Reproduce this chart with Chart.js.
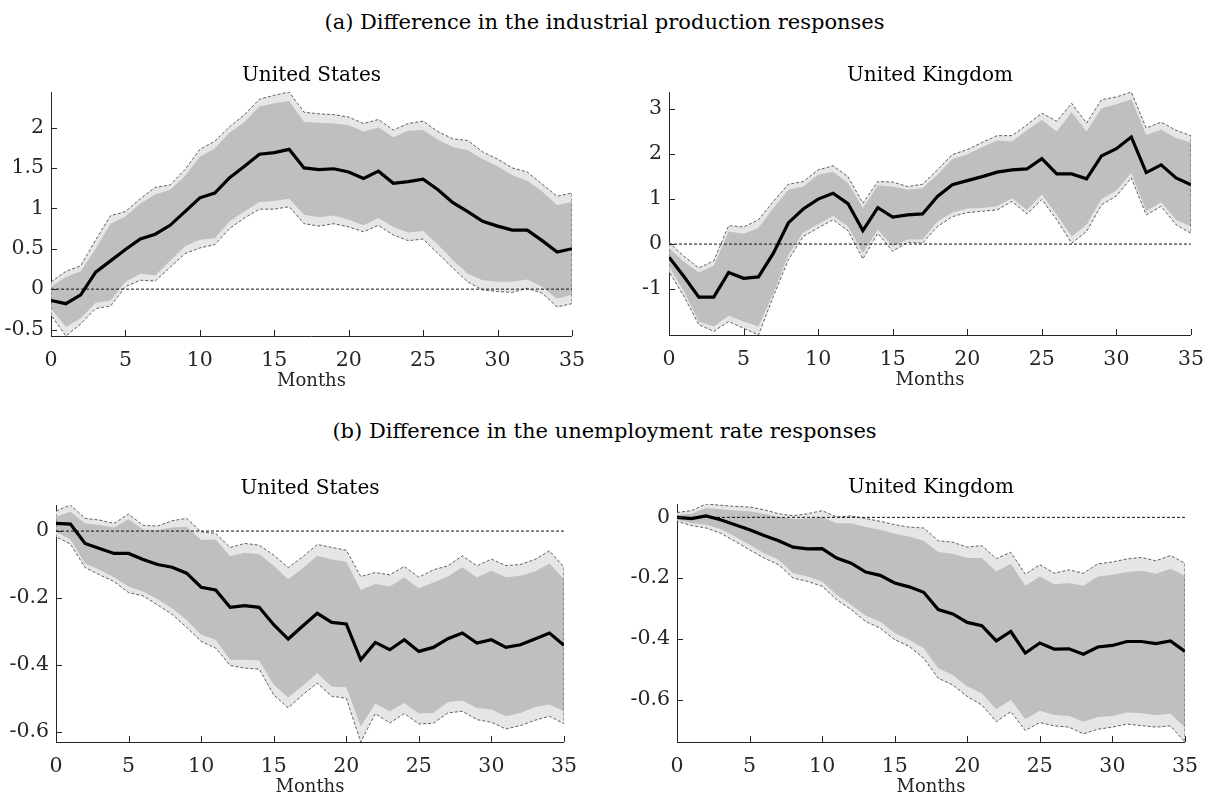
<!DOCTYPE html>
<html>
<head>
<meta charset="utf-8">
<script src="https://cdn.jsdelivr.net/npm/chart.js@4.4.0/dist/chart.umd.min.js"></script>
<style>
  html, body { margin: 0; padding: 0; background: #fff; }
  body { width: 1209px; height: 798px; position: relative; overflow: hidden; }
  .heading { position: absolute; left: 0; width: 1209px; text-align: center;
             font-family: "DejaVu Serif", serif; font-size: 21px; line-height: 26px; color: #000; }
  .ptitle { position: absolute; text-align: center; font-family: "DejaVu Serif", serif;
            font-size: 20px; line-height: 24px; color: #000; white-space: nowrap; }
  canvas { position: absolute; }
</style>
</head>
<body>
<div class="heading" style="top:9px">(a) Difference in the industrial production responses</div>
<div class="heading" style="top:418px">(b) Difference in the unemployment rate responses</div>
<canvas id="ipUS"></canvas>
<canvas id="ipUK"></canvas>
<canvas id="urUS"></canvas>
<canvas id="urUK"></canvas>
<script>
// Horizon (months after the shock)
const months = [0,1,2,3,4,5,6,7,8,9,10,11,12,13,14,15,16,17,18,19,20,21,22,23,24,25,26,27,28,29,30,31,32,33,34,35];
const monthTicks = [0,5,10,15,20,25,30,35];

// Industrial production, United States
const ipUSMedian  = [-0.14,-0.18,-0.07,0.21,0.35,0.49,0.62,0.68,0.79,0.96,1.13,1.19,1.38,1.52,1.67,1.69,1.73,1.50,1.48,1.49,1.45,1.37,1.46,1.31,1.33,1.36,1.23,1.07,0.96,0.84,0.78,0.73,0.73,0.60,0.46,0.50];
const ipUSOuterHi = [0.09,0.22,0.29,0.61,0.91,0.96,1.12,1.26,1.29,1.48,1.73,1.83,2.01,2.16,2.35,2.40,2.44,2.19,2.17,2.16,2.13,2.05,2.10,1.97,2.05,2.08,1.95,1.86,1.84,1.70,1.61,1.50,1.45,1.30,1.15,1.19];
const ipUSInnerHi = [0.03,0.15,0.22,0.50,0.81,0.90,1.06,1.17,1.23,1.40,1.64,1.74,1.94,2.07,2.26,2.30,2.33,2.07,2.06,2.05,2.03,1.95,2.00,1.88,1.96,1.97,1.85,1.76,1.72,1.61,1.52,1.41,1.34,1.21,1.04,1.08];
const ipUSInnerLo = [-0.24,-0.47,-0.36,-0.17,-0.14,0.09,0.19,0.17,0.35,0.53,0.61,0.63,0.84,0.96,1.08,1.09,1.12,0.92,0.89,0.91,0.86,0.79,0.88,0.77,0.70,0.72,0.55,0.36,0.19,0.11,0.09,0.09,0.12,0.03,-0.12,-0.07];
const ipUSOuterLo = [-0.32,-0.58,-0.43,-0.24,-0.21,0.03,0.11,0.10,0.27,0.44,0.51,0.55,0.75,0.88,0.99,0.99,1.02,0.81,0.78,0.81,0.77,0.71,0.79,0.67,0.60,0.62,0.44,0.26,0.09,-0.01,-0.03,-0.04,0.01,-0.05,-0.22,-0.18];
const ipUSTicks   = [-0.5,0,0.5,1,1.5,2];

// Industrial production, United Kingdom
const ipUKMedian  = [-0.29,-0.72,-1.18,-1.18,-0.63,-0.76,-0.73,-0.20,0.47,0.78,1.00,1.13,0.90,0.30,0.81,0.60,0.65,0.67,1.06,1.32,1.41,1.50,1.60,1.65,1.67,1.90,1.56,1.56,1.45,1.96,2.12,2.38,1.59,1.76,1.47,1.32];
const ipUKOuterHi = [0.04,-0.27,-0.53,-0.37,0.41,0.38,0.54,0.95,1.33,1.39,1.65,1.74,1.50,0.91,1.39,1.38,1.28,1.33,1.65,1.99,2.10,2.26,2.41,2.41,2.65,2.91,2.73,3.13,2.69,3.21,3.27,3.38,2.58,2.71,2.53,2.41];
const ipUKInnerHi = [-0.09,-0.39,-0.63,-0.48,0.28,0.23,0.36,0.80,1.21,1.28,1.54,1.61,1.36,0.80,1.30,1.28,1.21,1.24,1.54,1.89,1.99,2.16,2.30,2.28,2.53,2.76,2.50,2.93,2.50,3.02,3.11,3.22,2.43,2.54,2.36,2.26];
const ipUKInnerLo = [-0.50,-1.05,-1.72,-1.83,-1.59,-1.72,-1.83,-1.09,-0.24,0.26,0.44,0.63,0.39,-0.20,0.32,-0.05,0.10,0.10,0.50,0.70,0.79,0.80,0.84,1.02,0.76,1.10,0.65,0.17,0.43,1.00,1.19,1.58,0.73,0.93,0.54,0.39];
const ipUKOuterLo = [-0.61,-1.16,-1.79,-1.94,-1.72,-1.87,-2.02,-1.16,-0.35,0.17,0.36,0.54,0.30,-0.33,0.24,-0.16,0.04,0.02,0.39,0.61,0.70,0.73,0.76,0.95,0.67,0.99,0.54,0.02,0.28,0.87,1.07,1.47,0.65,0.84,0.43,0.24];
const ipUKTicks   = [-1,0,1,2,3];

// Unemployment rate, United States
const urUSMedian  = [0.023,0.021,-0.037,-0.052,-0.067,-0.067,-0.085,-0.100,-0.108,-0.126,-0.168,-0.176,-0.228,-0.223,-0.228,-0.280,-0.323,-0.284,-0.246,-0.273,-0.278,-0.385,-0.333,-0.355,-0.325,-0.360,-0.348,-0.322,-0.305,-0.335,-0.325,-0.348,-0.340,-0.323,-0.305,-0.342];
const urUSOuterHi = [0.060,0.078,0.038,0.033,0.023,0.051,0.017,0.015,0.031,0.038,-0.002,-0.007,-0.049,-0.037,-0.042,-0.072,-0.109,-0.077,-0.040,-0.049,-0.057,-0.136,-0.124,-0.131,-0.106,-0.138,-0.116,-0.104,-0.074,-0.104,-0.084,-0.103,-0.100,-0.085,-0.059,-0.108];
const urUSInnerHi = [0.043,0.058,0.023,0.018,0.011,0.035,0.005,0.003,0.011,0.013,-0.027,-0.025,-0.075,-0.065,-0.069,-0.104,-0.144,-0.111,-0.074,-0.085,-0.092,-0.176,-0.158,-0.166,-0.139,-0.171,-0.154,-0.136,-0.108,-0.139,-0.119,-0.138,-0.134,-0.121,-0.097,-0.144];
const urUSInnerLo = [-0.002,-0.025,-0.097,-0.116,-0.138,-0.166,-0.181,-0.204,-0.231,-0.266,-0.310,-0.325,-0.385,-0.385,-0.387,-0.460,-0.498,-0.463,-0.425,-0.465,-0.467,-0.584,-0.516,-0.539,-0.514,-0.546,-0.544,-0.511,-0.507,-0.529,-0.534,-0.554,-0.544,-0.526,-0.519,-0.539];
const urUSOuterLo = [-0.017,-0.039,-0.109,-0.131,-0.151,-0.184,-0.194,-0.221,-0.249,-0.288,-0.330,-0.350,-0.402,-0.410,-0.413,-0.490,-0.529,-0.490,-0.455,-0.494,-0.500,-0.631,-0.546,-0.574,-0.546,-0.577,-0.575,-0.544,-0.539,-0.564,-0.572,-0.592,-0.582,-0.566,-0.554,-0.576];
const urUSTicks   = [-0.6,-0.4,-0.2,0];

// Unemployment rate, United Kingdom
const urUKMedian  = [0,-0.004,0.005,-0.008,-0.024,-0.041,-0.060,-0.077,-0.098,-0.104,-0.103,-0.134,-0.151,-0.180,-0.191,-0.216,-0.229,-0.247,-0.304,-0.318,-0.346,-0.357,-0.407,-0.376,-0.447,-0.414,-0.434,-0.433,-0.451,-0.427,-0.422,-0.409,-0.409,-0.416,-0.407,-0.442];
const urUKOuterHi = [0.016,0.022,0.044,0.040,0.036,0.034,0.025,0.012,0.005,0.012,0.022,0.001,0.005,-0.004,-0.013,-0.024,-0.032,-0.035,-0.077,-0.082,-0.098,-0.093,-0.136,-0.115,-0.187,-0.156,-0.184,-0.173,-0.184,-0.153,-0.147,-0.137,-0.132,-0.143,-0.126,-0.151];
const urUKInnerHi = [0.009,0.012,0.031,0.027,0.023,0.020,0.012,0.001,-0.005,-0.004,0.001,-0.019,-0.019,-0.032,-0.041,-0.054,-0.063,-0.077,-0.114,-0.120,-0.134,-0.134,-0.178,-0.153,-0.225,-0.195,-0.220,-0.216,-0.225,-0.195,-0.189,-0.180,-0.176,-0.186,-0.169,-0.192];
const urUKInnerLo = [-0.008,-0.019,-0.024,-0.038,-0.063,-0.090,-0.118,-0.140,-0.184,-0.195,-0.211,-0.255,-0.288,-0.324,-0.343,-0.381,-0.403,-0.431,-0.497,-0.519,-0.557,-0.579,-0.632,-0.601,-0.665,-0.637,-0.651,-0.654,-0.673,-0.658,-0.654,-0.643,-0.645,-0.651,-0.647,-0.691];
const urUKOuterLo = [-0.013,-0.027,-0.035,-0.052,-0.079,-0.107,-0.134,-0.156,-0.200,-0.211,-0.227,-0.271,-0.304,-0.343,-0.365,-0.403,-0.425,-0.464,-0.530,-0.552,-0.590,-0.618,-0.673,-0.640,-0.702,-0.676,-0.687,-0.691,-0.713,-0.698,-0.691,-0.681,-0.686,-0.691,-0.687,-0.740];
const urUKTicks   = [-0.6,-0.4,-0.2,0];

const AXIS = '#262626';
const FONT = '"DejaVu Serif", serif';
const Y_AXIS_W = 60, X_AXIS_H = 60, TITLE_H = 32, RIGHT_PAD = 25;
const TICK_SIZE = 20.5, LABEL_SIZE = 18;

// Short tick marks pointing into the plot, as in a boxed-off axes
const innerTicks = {
  id: 'innerTicks',
  afterDraw(chart) {
    const {ctx, chartArea: a, scales: {x, y}} = chart;
    ctx.save();
    ctx.strokeStyle = AXIS;
    ctx.lineWidth = 1;
    ctx.beginPath();
    x.ticks.forEach(t => {
      const px = Math.round(x.getPixelForValue(t.value)) + 0.5;
      ctx.moveTo(px, a.bottom); ctx.lineTo(px, a.bottom - 6);
    });
    y.ticks.forEach(t => {
      const py = Math.round(y.getPixelForValue(t.value)) + 0.5;
      ctx.moveTo(a.left, py); ctx.lineTo(a.left + 6, py);
    });
    ctx.stroke();
    ctx.restore();
  }
};

const pts = arr => arr.map((v, i) => ({x: months[i], y: v}));

function panel(id, rect, title, med, oHi, iHi, iLo, oLo, yTicks, yMin, yMax) {
  const cv = document.getElementById(id);
  const w = (rect.R - rect.L) + Y_AXIS_W + RIGHT_PAD;
  const h = (rect.B - rect.T) + TITLE_H + X_AXIS_H;
  cv.width = w; cv.height = h;
  cv.style.left = (rect.L - Y_AXIS_W) + 'px';
  cv.style.top = (rect.T - TITLE_H) + 'px';
  cv.style.width = w + 'px'; cv.style.height = h + 'px';

  // panel title, centred over the plotting area
  const t = document.createElement('div');
  t.className = 'ptitle';
  t.textContent = title;
  t.style.left = rect.L + 'px';
  t.style.width = (rect.R - rect.L) + 'px';
  t.style.top = (rect.T - 30) + 'px';
  document.body.appendChild(t);

  // dashed outline around the outer band: upper edge, right side, lower edge back, left side
  const outline = pts(oHi).concat(pts(oLo).reverse(), [{x: months[0], y: oHi[0]}]);
  const zero = [{x: months[0], y: 0}, {x: months[months.length - 1], y: 0}];
  const base = {pointRadius: 0, tension: 0, borderWidth: 0, fill: false};

  new Chart(cv, {
    type: 'line',
    data: {
      datasets: [
        {...base, data: pts(med), borderColor: '#000', borderWidth: 3.2, order: 0},
        {...base, data: zero, borderColor: '#111', borderWidth: 1, borderDash: [3, 2], order: 1},
        {...base, data: outline, borderColor: '#3a3a3a', borderWidth: 0.8, borderDash: [3, 2], order: 2},
        {...base, data: pts(iHi), backgroundColor: '#bfbfbf', fill: '+1', order: 3},
        {...base, data: pts(iLo), order: 4},
        {...base, data: pts(oHi), backgroundColor: '#e6e6e6', fill: '+1', order: 5},
        {...base, data: pts(oLo), order: 6}
      ]
    },
    options: {
      responsive: false,
      animation: false,
      events: [],
      layout: {padding: {left: 0, right: RIGHT_PAD, top: TITLE_H, bottom: 0}},
      plugins: {
        legend: {display: false},
        tooltip: {enabled: false},
        title: {display: false}
      },
      scales: {
        x: {
          type: 'linear', min: months[0], max: months[months.length - 1],
          grid: {display: false, drawTicks: false},
          border: {display: true, color: AXIS, width: 1},
          afterBuildTicks: s => { s.ticks = monthTicks.map(v => ({value: v})); },
          afterFit: s => { s.height = X_AXIS_H; },
          ticks: {autoSkip: false, maxRotation: 0, padding: 12, color: AXIS,
                  font: {family: FONT, size: TICK_SIZE}, callback: v => String(v)},
          title: {display: true, text: 'Months', color: AXIS,
                  font: {family: FONT, size: LABEL_SIZE, lineHeight: 1.2}, padding: {top: 0, bottom: 4}}
        },
        y: {
          type: 'linear', min: yMin, max: yMax,
          grid: {display: false, drawTicks: false},
          border: {display: true, color: AXIS, width: 1},
          afterBuildTicks: s => { s.ticks = yTicks.map(v => ({value: v})); },
          afterFit: s => { s.width = Y_AXIS_W; },
          ticks: {autoSkip: false, padding: 7, color: AXIS,
                  font: {family: FONT, size: TICK_SIZE}, callback: v => String(v)}
        }
      }
    },
    plugins: [innerTicks]
  });
}

panel('ipUS', {L: 51, T: 92, R: 572, B: 336}, 'United States',
      ipUSMedian, ipUSOuterHi, ipUSInnerHi, ipUSInnerLo, ipUSOuterLo, ipUSTicks, -0.58, 2.44);
panel('ipUK', {L: 669, T: 92, R: 1191, B: 335}, 'United Kingdom',
      ipUKMedian, ipUKOuterHi, ipUKInnerHi, ipUKInnerLo, ipUKOuterLo, ipUKTicks, -2.02, 3.38);
panel('urUS', {L: 56, T: 505, R: 564, B: 742}, 'United States',
      urUSMedian, urUSOuterHi, urUSInnerHi, urUSInnerLo, urUSOuterLo, urUSTicks, -0.631, 0.078);
panel('urUK', {L: 677, T: 504, R: 1185, B: 742}, 'United Kingdom',
      urUKMedian, urUKOuterHi, urUKInnerHi, urUKInnerLo, urUKOuterLo, urUKTicks, -0.74, 0.044);
</script>
</body>
</html>
